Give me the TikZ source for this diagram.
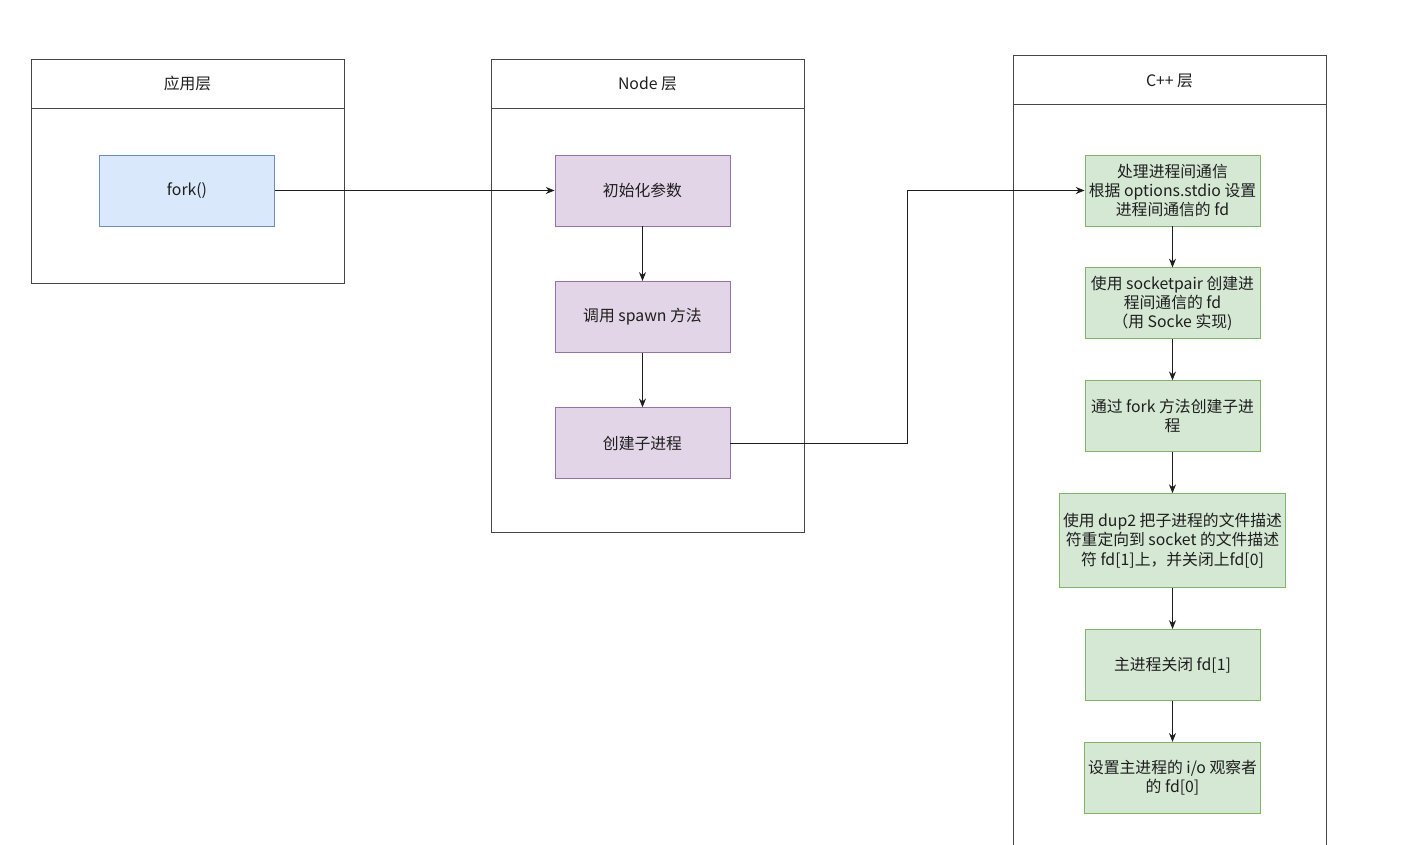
\documentclass[tikz,border=0pt]{standalone}
\usepackage{fontspec}
\setmainfont{Noto Sans CJK SC}
\usetikzlibrary{arrows.meta, positioning}
\definecolor{edge}{RGB}{70,70,70}
\definecolor{bfill}{RGB}{218,232,252}
\definecolor{bdraw}{RGB}{108,142,191}
\definecolor{pfill}{RGB}{225,213,231}
\definecolor{pdraw}{RGB}{150,115,166}
\definecolor{gfill}{RGB}{213,232,212}
\definecolor{gdraw}{RGB}{130,179,102}
\definecolor{ink}{RGB}{30,30,30}

\begin{document}
\begin{tikzpicture}[
    x=0.02cm, y=-0.02cm,
    font=\fontsize{9}{11}\selectfont, text=ink,
    lay/.style={draw=edge, line width=0.5pt},
    ttl/.style={inner sep=1pt},
    box/.style={draw, line width=0.5pt, inner sep=2pt, align=center,
                minimum width=3.5cm, minimum height=1.42cm},
    fbox/.style={box, fill=bfill, draw=bdraw},
    pbox/.style={box, fill=pfill, draw=pdraw},
    gbox/.style={box, fill=gfill, draw=gdraw},
    arr/.style={-{Stealth[length=5pt,width=4pt]}, draw=ink, line width=0.5pt},
    node distance=0.82cm
  ]
    \useasboundingbox (0,0) rectangle (1407,845);

    %% 应用层 ─────────────────────────────────
    \draw[lay] (31,59) rectangle (344,283);
    \draw[lay] (31,108) -- (344,108);
    \node[ttl] (appT) at (187.5,83.5) {应用层};
    \node[fbox] (fork) at (187,190.5) {fork()};

    %% Node 层 ────────────────────────────────
    \draw[lay] (491,59) rectangle (804,532);
    \draw[lay] (491,108) -- (804,108);
    \node[ttl] (nodeT) at (647.5,83.5) {Node 层};
    \node[pbox] (init)  at (642.5,190.5) {初始化参数};
    \node[pbox, below=1.09cm of init]  (spawn) {调用 spawn 方法};
    \node[pbox, below=1.09cm of spawn] (child) {创建子进程};

    \draw[arr] (fork.east) -- (init.west);
    \draw[arr] (init) -- (spawn);
    \draw[arr] (spawn) -- (child);

    %% C++ 层 ─────────────────────────────────
    \draw[lay] (1013,845) -- (1013,55) -- (1326,55) -- (1326,845);
    \draw[lay] (1013,104) -- (1326,104);
    \node[ttl] (cppT) at (1169.5,81) {C++ 层};

    \node[gbox] (ipc) at (1172.5,190.5)
          {处理进程间通信\\根据 options.stdio 设置\\进程间通信的 fd};
    \node[gbox, below=of ipc]  (pair) {使用 socketpair 创建进\\程间通信的 fd\\（用 Socke 实现)};
    \node[gbox, below=of pair] (fk)   {通过 fork 方法创建子进\\程};
    \node[gbox, below=of fk, minimum width=4.5cm, minimum height=1.88cm] (dup)
          {使用 dup2 把子进程的文件描述\\符重定向到 socket 的文件描述\\符 fd[1]上，并关闭上fd[0]};
    \node[gbox, below=of dup]  (cls)  {主进程关闭 fd[1]};
    \node[gbox, below=of cls]  (obs)  {设置主进程的 i/o 观察者\\的 fd[0]};

    \draw[arr] (child.east) -- ++(177.5,0) |- (ipc.west);
    \draw[arr] (ipc)  -- (pair);
    \draw[arr] (pair) -- (fk);
    \draw[arr] (fk)   -- (dup);
    \draw[arr] (dup)  -- (cls);
    \draw[arr] (cls)  -- (obs);

  \end{tikzpicture}
\end{document}
